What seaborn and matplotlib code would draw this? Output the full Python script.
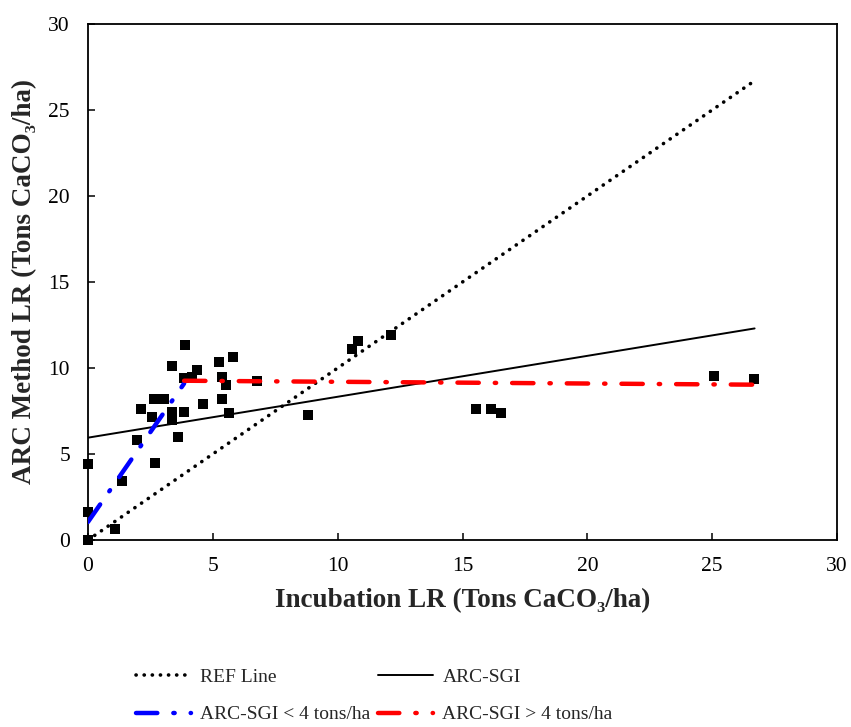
import matplotlib
matplotlib.use("Agg")
import matplotlib.pyplot as plt
from matplotlib.lines import Line2D
import seaborn as sns
import pandas as pd

# ---- data ----
incubation_lr = [0.0, 0.0, 0.0, 1.07, 1.35, 1.96, 2.69, 2.11, 2.55, 2.63, 3.06,
                 3.35, 3.35, 3.35, 3.60, 3.85, 3.88, 3.85, 4.15, 4.35, 4.62, 5.25,
                 5.79, 5.38, 5.51, 5.38, 5.64, 6.75, 8.81, 10.57, 10.80, 12.12,
                 15.53, 16.13, 16.54, 25.08, 26.69]
arc_lr = [0.0, 1.6, 4.42, 0.64, 3.41, 5.8, 4.49, 7.6, 7.15, 8.2, 8.2,
          10.1, 7.44, 7.0, 5.97, 7.42, 11.35, 9.44, 9.5, 9.88, 7.9, 10.37,
          10.64, 9.5, 9.03, 8.2, 7.37, 9.24, 7.29, 11.09, 11.55, 11.94,
          7.63, 7.63, 7.37, 9.53, 9.38]

ref_x = [0.0, 26.7]
ref_y = [0.0, 26.7]
sgi_x = [0.0, 26.7]
sgi_y = [5.95, 12.3]
low_x = [0.0, 3.85]
low_y = [1.05, 9.1]
high_x = [3.85, 26.7]
high_y = [9.26, 9.03]

labels = ["REF Line", "ARC-SGI", "ARC-SGI < 4 tons/ha", "ARC-SGI > 4 tons/ha"]

sns.set_theme(style="white")
plt.rcParams["font.family"] = ["Liberation Serif", "DejaVu Serif"]

fig = plt.figure(figsize=(8.51, 7.27), dpi=100)
ax = fig.add_axes([88/851, 1-540/727, (837-88)/851, (540-24)/727])

df = pd.DataFrame({"x": incubation_lr, "y": arc_lr})

lw_dash = 3.2
dashdot = (4.8, 3.6, 0.3, 3.6)

sns.lineplot(x=ref_x, y=ref_y, ax=ax, color="black", lw=2.6,
             linestyle=(0, (0.05, 2.2)), dash_capstyle="round", zorder=2)
sns.lineplot(x=sgi_x, y=sgi_y, ax=ax, color="black", lw=1.4, zorder=2)
sns.lineplot(x=low_x, y=low_y, ax=ax, color="#0000ff", lw=lw_dash,
             linestyle=(0, dashdot), dash_capstyle="round", zorder=4)
sns.lineplot(x=high_x, y=high_y, ax=ax, color="#ff0000", lw=lw_dash,
             linestyle=(0, dashdot), dash_capstyle="round", zorder=4)
sns.scatterplot(data=df, x="x", y="y", ax=ax, marker="s", s=60, color="black",
                edgecolor="black", linewidth=0, zorder=3, clip_on=False)

ax.set_xlim(0, 30)
ax.set_ylim(0, 30)
ax.set_xticks(range(0, 31, 5))
ax.set_yticks(range(0, 31, 5))
for s in ax.spines.values():
    s.set_color("black")
    s.set_linewidth(1.3)
ax.tick_params(axis="both", direction="in", length=5, width=1.1, colors="black",
               labelsize=15.5)
ax.tick_params(axis="x", pad=12, bottom=True)
ax.tick_params(axis="y", pad=13, left=True)

ax.set_xlabel("Incubation LR (Tons CaCO\u2083/ha)", fontsize=19.5, fontweight="bold", labelpad=9)
ax.set_ylabel("ARC Method LR (Tons CaCO\u2083/ha)", fontsize=19.5, fontweight="bold", labelpad=8)

handles = [
    Line2D([], [], color="black", lw=2.6, linestyle=(0, (0.05, 2.2)), dash_capstyle="round"),
    Line2D([], [], color="#0000ff", lw=lw_dash, linestyle=(0, dashdot), dash_capstyle="round"),
    Line2D([], [], color="black", lw=1.4),
    Line2D([], [], color="#ff0000", lw=lw_dash, linestyle=(0, dashdot), dash_capstyle="round"),
]
order_labels = [labels[0], labels[2], labels[1], labels[3]]
fig.legend(handles, order_labels, ncol=2, loc="center", bbox_to_anchor=(0.44, 1-696/727),
           frameon=False, fontsize=14, handlelength=2.8, columnspacing=0.4,
           handletextpad=0.5, labelspacing=1.0)

fig.savefig("out.png", dpi=100)
